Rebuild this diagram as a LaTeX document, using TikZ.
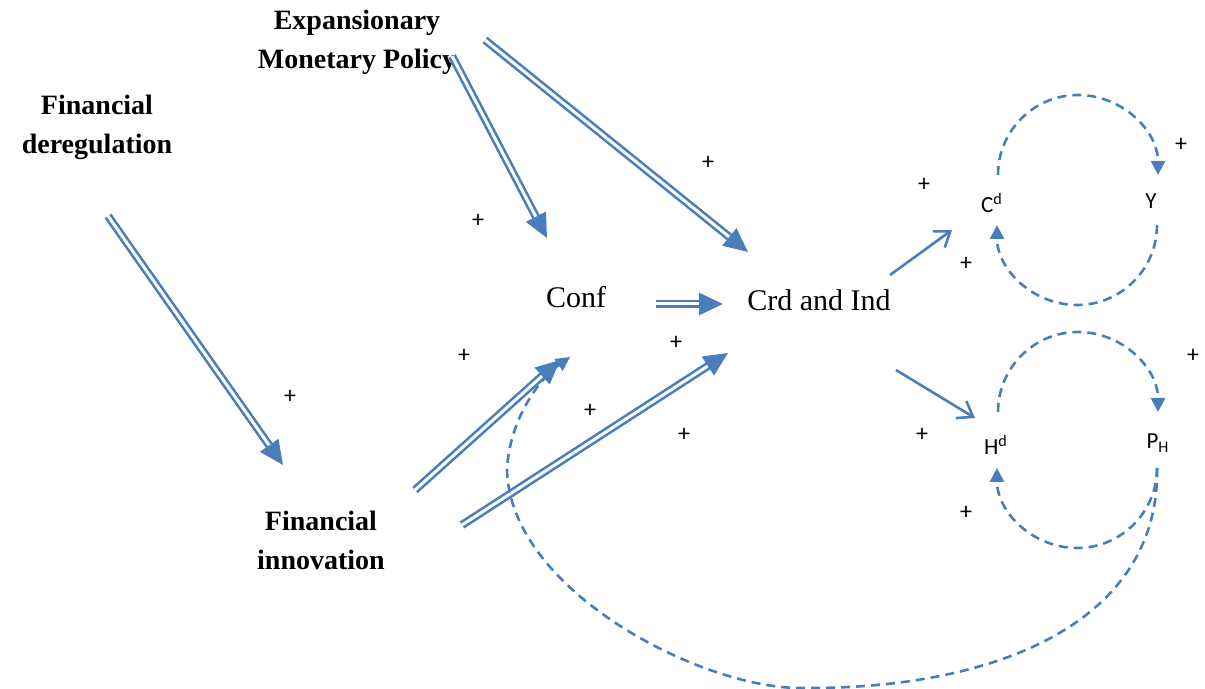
\documentclass[tikz,border=0pt]{standalone}
\usepackage{fontspec}
\setmainfont{Liberation Serif}
\newfontfamily\varfont{Carlito}
\usetikzlibrary{arrows.meta}
\definecolor{linkblue}{HTML}{4A7EBB}

\begin{document}
\begin{tikzpicture}[x=0.5pt,y=-0.5pt]
\tikzset{
  causebox/.style = {align=center, inner sep=0pt,
                     font=\fontsize{14}{19.5}\selectfont\bfseries},
  stagebox/.style = {inner sep=0pt, font=\fontsize{15}{18}\selectfont},
  varbox/.style   = {inner sep=0pt, font=\varfont\fontsize{11.5}{13}\selectfont},
  sign/.style     = {inner sep=0pt, font=\varfont\fontsize{12}{13}\selectfont},
  dbl/.style      = {draw=linkblue, line width=1.3pt, double=white,
                     double distance=1.5pt,
                     -{Triangle[length=12pt,width=11pt]}},
  thin/.style     = {draw=linkblue, line width=1.3pt,
                     -{Straight Barb[length=7pt,width=10pt]}},
  feedback/.style = {draw=linkblue, line width=1.3pt, dash pattern=on 4.5pt off 3pt,
                     -{Triangle[length=7pt,width=7pt]}},
}
\useasboundingbox (0,0) rectangle (1205,689);

% causes
\node[causebox] (dereg)  at (97,127)  {Financial\\deregulation};
\node[causebox] (policy) at (357,42)  {Expansionary\\Monetary Policy};
\node[causebox] (innov)  at (321,540) {Financial\\innovation};

% channels
\node[stagebox] (conf) at (576,297) {Conf};
\node[stagebox] (crd)  at (819,300) {Crd and Ind};

% demand side
\node[varbox] (cd) at (992,203)  {C\textsuperscript{d}};
\node[varbox] (y)  at (1151,201) {Y};
\node[varbox] (hd) at (996,445)  {H\textsuperscript{d}};
\node[varbox] (ph) at (1158,443) {P\textsubscript{H}};

\draw[dbl] ([shift={(11,89)}]dereg.center)   -- ([shift={(-38,-75)}]innov.center);
\draw[dbl] ([shift={(95,14)}]policy.center)  -- ([shift={(-29,-59)}]conf.center);
\draw[dbl] ([shift={(128,-2)}]policy.center) -- ([shift={(-71,-48)}]crd.center);
\draw[dbl] ([shift={(94,-50)}]innov.center)  -- ([shift={(-16,63)}]conf.center);
\draw[dbl] ([shift={(141,-15)}]innov.center) -- ([shift={(-91,53)}]crd.center);
\draw[dbl] ([shift={(80,7)}]conf.center)     -- ([shift={(-96,4)}]crd.center);

\draw[thin] ([shift={(71,-25)}]crd.center) -- ([shift={(-40,27)}]cd.center);
\draw[thin] ([shift={(77,70)}]crd.center)  -- ([shift={(-21,-27)}]hd.center);

% loops
\draw[feedback] ([shift={(6,-28)}]cd.center) arc[start angle=180, end angle=360, radius=80];
\draw[feedback] ([shift={(6,24)}]y.center)   arc[start angle=0, end angle=180, radius=80];
\draw[feedback] ([shift={(2,-33)}]hd.center) arc[start angle=180, end angle=360, radius=80];
\coordinate (phout) at ([shift={(-1,25)}]ph.center);
\draw[feedback] (phout) arc[start angle=0, end angle=180, radius=80];
\draw[feedback] (phout) .. controls (1160,620) and (1000,690) .. (800,688)
  .. controls (700,688) and (510,590) .. (507,470)
  .. controls (509,420) and (540,378) .. ([shift={(-6,60)}]conf.center);

% signs
\foreach \px/\py [count=\i] in {708/163, 478/221, 924/185, 966/264, 1181/145,
    464/356, 676/343, 590/411, 684/435, 290/397, 922/435, 966/513, 1193/356}
  \node[sign] (sign\i) at (\px,\py) {+};

\end{tikzpicture}
\end{document}
